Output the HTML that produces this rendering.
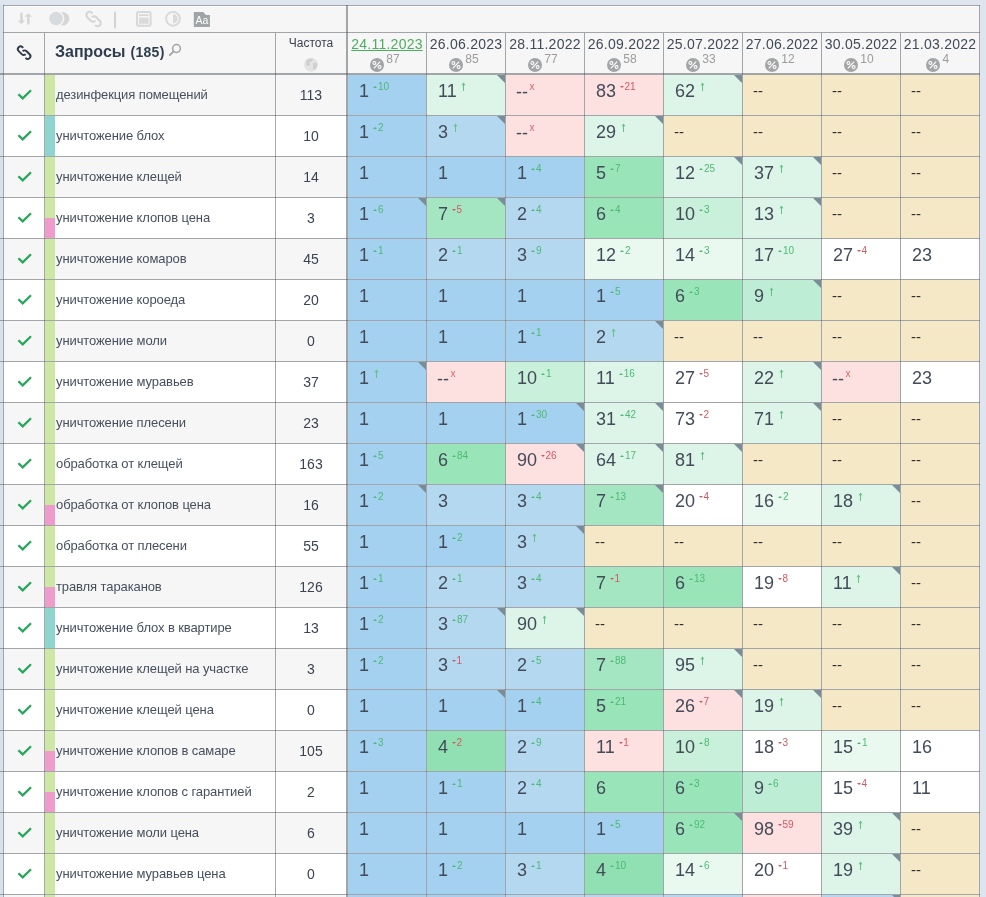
<!DOCTYPE html>
<html><head><meta charset="utf-8"><title>Запросы</title>
<style>
*{margin:0;padding:0;box-sizing:border-box}
html,body{width:986px;height:897px;overflow:hidden}
body{position:relative;background:#dfe5ee;font-family:"Liberation Sans",Arial,sans-serif;color:#3b4553}
.a{position:absolute}
.hl{position:absolute;height:1px;background:rgba(80,86,92,.5)}
.vl{position:absolute;width:1px;background:rgba(80,86,92,.5)}
.q{position:absolute;left:56px;font-size:13px;line-height:13px;color:#474f5d;white-space:nowrap;letter-spacing:-.1px}
.f{position:absolute;left:276px;width:70px;text-align:center;font-size:14px;line-height:14px;color:#3b4250}
.v{position:absolute;font-size:18px;line-height:18px;color:#434b59;white-space:nowrap}
.s{font-size:10px;line-height:10px;position:relative;top:-7px;margin-left:4px}
.su{color:#4cba74}.sd{color:#d05a63}.sx{color:#d46a6a}
.tu{display:inline-block;width:0;height:0;border-left:2px solid transparent;border-right:2px solid transparent;border-bottom:2.5px solid #4cba74;vertical-align:2.5px;margin-right:1px}
.td{display:inline-block;width:0;height:0;border-left:2px solid transparent;border-right:2px solid transparent;border-top:2.5px solid #d05a63;vertical-align:2.5px;margin-right:.5px}
.ar{vertical-align:6px;margin-left:4.5px}
.dd{position:absolute;font-size:15px;line-height:15px;color:#2e2e2e}
.cr{position:absolute;width:0;height:0;border-top:8px solid #7b8c99;border-left:8px solid transparent}
.dh{position:absolute;width:78px;text-align:center;font-size:14px;line-height:14px;color:#434a57;white-space:nowrap;letter-spacing:.25px}
.pc{position:absolute;width:14px;height:14px;border-radius:50%;background:#a3a5a7;color:#fff;font-size:10px;line-height:14px;text-align:center;font-weight:bold}
.pn{position:absolute;font-size:12px;line-height:12px;color:#9b9b9b}
</style></head><body>

<div class="a" style="left:0;top:5px;width:3px;height:892px;background:#d6e1ea"></div>
<div class="a" style="left:3px;top:5px;width:977px;height:892px;background:#f6f6f6"></div>
<div class="a" style="left:4px;top:75px;width:342px;height:40px;background:#f6f6f6"></div>
<div class="a" style="left:4px;top:116px;width:342px;height:40px;background:#ffffff"></div>
<div class="a" style="left:4px;top:157px;width:342px;height:40px;background:#f6f6f6"></div>
<div class="a" style="left:4px;top:198px;width:342px;height:40px;background:#ffffff"></div>
<div class="a" style="left:4px;top:239px;width:342px;height:40px;background:#f6f6f6"></div>
<div class="a" style="left:4px;top:280px;width:342px;height:40px;background:#ffffff"></div>
<div class="a" style="left:4px;top:321px;width:342px;height:40px;background:#f6f6f6"></div>
<div class="a" style="left:4px;top:362px;width:342px;height:40px;background:#ffffff"></div>
<div class="a" style="left:4px;top:403px;width:342px;height:40px;background:#f6f6f6"></div>
<div class="a" style="left:4px;top:444px;width:342px;height:40px;background:#ffffff"></div>
<div class="a" style="left:4px;top:485px;width:342px;height:40px;background:#f6f6f6"></div>
<div class="a" style="left:4px;top:526px;width:342px;height:40px;background:#ffffff"></div>
<div class="a" style="left:4px;top:567px;width:342px;height:40px;background:#f6f6f6"></div>
<div class="a" style="left:4px;top:608px;width:342px;height:40px;background:#ffffff"></div>
<div class="a" style="left:4px;top:649px;width:342px;height:40px;background:#f6f6f6"></div>
<div class="a" style="left:4px;top:690px;width:342px;height:40px;background:#ffffff"></div>
<div class="a" style="left:4px;top:731px;width:342px;height:40px;background:#f6f6f6"></div>
<div class="a" style="left:4px;top:772px;width:342px;height:40px;background:#ffffff"></div>
<div class="a" style="left:4px;top:813px;width:342px;height:40px;background:#f6f6f6"></div>
<div class="a" style="left:4px;top:854px;width:342px;height:40px;background:#ffffff"></div>
<div class="a" style="left:4px;top:895px;width:342px;height:40px;background:#f6f6f6"></div>
<div class="a" style="left:45px;top:75px;width:10px;height:40px;background:#cde8a5"></div>
<div class="a" style="left:45px;top:116px;width:10px;height:40px;background:#8fd5cf"></div>
<div class="a" style="left:45px;top:157px;width:10px;height:40px;background:#cde8a5"></div>
<div class="a" style="left:45px;top:198px;width:10px;height:20px;background:#cde8a5"></div>
<div class="a" style="left:45px;top:218px;width:10px;height:20px;background:#ef9bcb"></div>
<div class="a" style="left:45px;top:239px;width:10px;height:40px;background:#cde8a5"></div>
<div class="a" style="left:45px;top:280px;width:10px;height:40px;background:#cde8a5"></div>
<div class="a" style="left:45px;top:321px;width:10px;height:40px;background:#cde8a5"></div>
<div class="a" style="left:45px;top:362px;width:10px;height:40px;background:#cde8a5"></div>
<div class="a" style="left:45px;top:403px;width:10px;height:40px;background:#cde8a5"></div>
<div class="a" style="left:45px;top:444px;width:10px;height:40px;background:#cde8a5"></div>
<div class="a" style="left:45px;top:485px;width:10px;height:20px;background:#cde8a5"></div>
<div class="a" style="left:45px;top:505px;width:10px;height:20px;background:#ef9bcb"></div>
<div class="a" style="left:45px;top:526px;width:10px;height:40px;background:#cde8a5"></div>
<div class="a" style="left:45px;top:567px;width:10px;height:20px;background:#cde8a5"></div>
<div class="a" style="left:45px;top:587px;width:10px;height:20px;background:#ef9bcb"></div>
<div class="a" style="left:45px;top:608px;width:10px;height:40px;background:#8fd5cf"></div>
<div class="a" style="left:45px;top:649px;width:10px;height:40px;background:#cde8a5"></div>
<div class="a" style="left:45px;top:690px;width:10px;height:40px;background:#cde8a5"></div>
<div class="a" style="left:45px;top:731px;width:10px;height:20px;background:#cde8a5"></div>
<div class="a" style="left:45px;top:751px;width:10px;height:20px;background:#ef9bcb"></div>
<div class="a" style="left:45px;top:772px;width:10px;height:20px;background:#cde8a5"></div>
<div class="a" style="left:45px;top:792px;width:10px;height:20px;background:#ef9bcb"></div>
<div class="a" style="left:45px;top:813px;width:10px;height:40px;background:#cde8a5"></div>
<div class="a" style="left:45px;top:854px;width:10px;height:40px;background:#cde8a5"></div>
<div class="a" style="left:45px;top:895px;width:10px;height:40px;background:#cde8a5"></div>
<div class="a" style="left:348px;top:75px;width:78px;height:40px;background:#a3d1ef"></div>
<div class="a" style="left:427px;top:75px;width:78px;height:40px;background:#ddf5e8"></div>
<div class="a" style="left:506px;top:75px;width:78px;height:40px;background:#fde0e0"></div>
<div class="a" style="left:585px;top:75px;width:78px;height:40px;background:#fde0e0"></div>
<div class="a" style="left:664px;top:75px;width:78px;height:40px;background:#ddf5e8"></div>
<div class="a" style="left:743px;top:75px;width:78px;height:40px;background:#f5e8c7"></div>
<div class="a" style="left:822px;top:75px;width:78px;height:40px;background:#f5e8c7"></div>
<div class="a" style="left:901px;top:75px;width:78px;height:40px;background:#f5e8c7"></div>
<div class="a" style="left:348px;top:116px;width:78px;height:40px;background:#a3d1ef"></div>
<div class="a" style="left:427px;top:116px;width:78px;height:40px;background:#b4d8f0"></div>
<div class="a" style="left:506px;top:116px;width:78px;height:40px;background:#fde0e0"></div>
<div class="a" style="left:585px;top:116px;width:78px;height:40px;background:#ddf5e8"></div>
<div class="a" style="left:664px;top:116px;width:78px;height:40px;background:#f5e8c7"></div>
<div class="a" style="left:743px;top:116px;width:78px;height:40px;background:#f5e8c7"></div>
<div class="a" style="left:822px;top:116px;width:78px;height:40px;background:#f5e8c7"></div>
<div class="a" style="left:901px;top:116px;width:78px;height:40px;background:#f5e8c7"></div>
<div class="a" style="left:348px;top:157px;width:78px;height:40px;background:#a3d1ef"></div>
<div class="a" style="left:427px;top:157px;width:78px;height:40px;background:#a3d1ef"></div>
<div class="a" style="left:506px;top:157px;width:78px;height:40px;background:#a3d1ef"></div>
<div class="a" style="left:585px;top:157px;width:78px;height:40px;background:#9ae4ba"></div>
<div class="a" style="left:664px;top:157px;width:78px;height:40px;background:#ddf5e8"></div>
<div class="a" style="left:743px;top:157px;width:78px;height:40px;background:#ddf5e8"></div>
<div class="a" style="left:822px;top:157px;width:78px;height:40px;background:#f5e8c7"></div>
<div class="a" style="left:901px;top:157px;width:78px;height:40px;background:#f5e8c7"></div>
<div class="a" style="left:348px;top:198px;width:78px;height:40px;background:#a3d1ef"></div>
<div class="a" style="left:427px;top:198px;width:78px;height:40px;background:#a5e6c2"></div>
<div class="a" style="left:506px;top:198px;width:78px;height:40px;background:#b4d8f0"></div>
<div class="a" style="left:585px;top:198px;width:78px;height:40px;background:#9ae4ba"></div>
<div class="a" style="left:664px;top:198px;width:78px;height:40px;background:#c9f0da"></div>
<div class="a" style="left:743px;top:198px;width:78px;height:40px;background:#ddf5e8"></div>
<div class="a" style="left:822px;top:198px;width:78px;height:40px;background:#f5e8c7"></div>
<div class="a" style="left:901px;top:198px;width:78px;height:40px;background:#f5e8c7"></div>
<div class="a" style="left:348px;top:239px;width:78px;height:40px;background:#a3d1ef"></div>
<div class="a" style="left:427px;top:239px;width:78px;height:40px;background:#b4d8f0"></div>
<div class="a" style="left:506px;top:239px;width:78px;height:40px;background:#b4d8f0"></div>
<div class="a" style="left:585px;top:239px;width:78px;height:40px;background:#eaf9f0"></div>
<div class="a" style="left:664px;top:239px;width:78px;height:40px;background:#eaf9f0"></div>
<div class="a" style="left:743px;top:239px;width:78px;height:40px;background:#ddf5e8"></div>
<div class="a" style="left:822px;top:239px;width:78px;height:40px;background:#ffffff"></div>
<div class="a" style="left:901px;top:239px;width:78px;height:40px;background:#ffffff"></div>
<div class="a" style="left:348px;top:280px;width:78px;height:40px;background:#a3d1ef"></div>
<div class="a" style="left:427px;top:280px;width:78px;height:40px;background:#a3d1ef"></div>
<div class="a" style="left:506px;top:280px;width:78px;height:40px;background:#a3d1ef"></div>
<div class="a" style="left:585px;top:280px;width:78px;height:40px;background:#a3d1ef"></div>
<div class="a" style="left:664px;top:280px;width:78px;height:40px;background:#9ae4ba"></div>
<div class="a" style="left:743px;top:280px;width:78px;height:40px;background:#beedd5"></div>
<div class="a" style="left:822px;top:280px;width:78px;height:40px;background:#f5e8c7"></div>
<div class="a" style="left:901px;top:280px;width:78px;height:40px;background:#f5e8c7"></div>
<div class="a" style="left:348px;top:321px;width:78px;height:40px;background:#a3d1ef"></div>
<div class="a" style="left:427px;top:321px;width:78px;height:40px;background:#a3d1ef"></div>
<div class="a" style="left:506px;top:321px;width:78px;height:40px;background:#a3d1ef"></div>
<div class="a" style="left:585px;top:321px;width:78px;height:40px;background:#b4d8f0"></div>
<div class="a" style="left:664px;top:321px;width:78px;height:40px;background:#f5e8c7"></div>
<div class="a" style="left:743px;top:321px;width:78px;height:40px;background:#f5e8c7"></div>
<div class="a" style="left:822px;top:321px;width:78px;height:40px;background:#f5e8c7"></div>
<div class="a" style="left:901px;top:321px;width:78px;height:40px;background:#f5e8c7"></div>
<div class="a" style="left:348px;top:362px;width:78px;height:40px;background:#a3d1ef"></div>
<div class="a" style="left:427px;top:362px;width:78px;height:40px;background:#fde0e0"></div>
<div class="a" style="left:506px;top:362px;width:78px;height:40px;background:#c9f0da"></div>
<div class="a" style="left:585px;top:362px;width:78px;height:40px;background:#ddf5e8"></div>
<div class="a" style="left:664px;top:362px;width:78px;height:40px;background:#ffffff"></div>
<div class="a" style="left:743px;top:362px;width:78px;height:40px;background:#ddf5e8"></div>
<div class="a" style="left:822px;top:362px;width:78px;height:40px;background:#fde0e0"></div>
<div class="a" style="left:901px;top:362px;width:78px;height:40px;background:#ffffff"></div>
<div class="a" style="left:348px;top:403px;width:78px;height:40px;background:#a3d1ef"></div>
<div class="a" style="left:427px;top:403px;width:78px;height:40px;background:#a3d1ef"></div>
<div class="a" style="left:506px;top:403px;width:78px;height:40px;background:#a3d1ef"></div>
<div class="a" style="left:585px;top:403px;width:78px;height:40px;background:#ddf5e8"></div>
<div class="a" style="left:664px;top:403px;width:78px;height:40px;background:#ffffff"></div>
<div class="a" style="left:743px;top:403px;width:78px;height:40px;background:#ddf5e8"></div>
<div class="a" style="left:822px;top:403px;width:78px;height:40px;background:#f5e8c7"></div>
<div class="a" style="left:901px;top:403px;width:78px;height:40px;background:#f5e8c7"></div>
<div class="a" style="left:348px;top:444px;width:78px;height:40px;background:#a3d1ef"></div>
<div class="a" style="left:427px;top:444px;width:78px;height:40px;background:#9ae4ba"></div>
<div class="a" style="left:506px;top:444px;width:78px;height:40px;background:#fde0e0"></div>
<div class="a" style="left:585px;top:444px;width:78px;height:40px;background:#ddf5e8"></div>
<div class="a" style="left:664px;top:444px;width:78px;height:40px;background:#ddf5e8"></div>
<div class="a" style="left:743px;top:444px;width:78px;height:40px;background:#f5e8c7"></div>
<div class="a" style="left:822px;top:444px;width:78px;height:40px;background:#f5e8c7"></div>
<div class="a" style="left:901px;top:444px;width:78px;height:40px;background:#f5e8c7"></div>
<div class="a" style="left:348px;top:485px;width:78px;height:40px;background:#a3d1ef"></div>
<div class="a" style="left:427px;top:485px;width:78px;height:40px;background:#b4d8f0"></div>
<div class="a" style="left:506px;top:485px;width:78px;height:40px;background:#b4d8f0"></div>
<div class="a" style="left:585px;top:485px;width:78px;height:40px;background:#a5e6c2"></div>
<div class="a" style="left:664px;top:485px;width:78px;height:40px;background:#ffffff"></div>
<div class="a" style="left:743px;top:485px;width:78px;height:40px;background:#eaf9f0"></div>
<div class="a" style="left:822px;top:485px;width:78px;height:40px;background:#ddf5e8"></div>
<div class="a" style="left:901px;top:485px;width:78px;height:40px;background:#f5e8c7"></div>
<div class="a" style="left:348px;top:526px;width:78px;height:40px;background:#a3d1ef"></div>
<div class="a" style="left:427px;top:526px;width:78px;height:40px;background:#a3d1ef"></div>
<div class="a" style="left:506px;top:526px;width:78px;height:40px;background:#b4d8f0"></div>
<div class="a" style="left:585px;top:526px;width:78px;height:40px;background:#f5e8c7"></div>
<div class="a" style="left:664px;top:526px;width:78px;height:40px;background:#f5e8c7"></div>
<div class="a" style="left:743px;top:526px;width:78px;height:40px;background:#f5e8c7"></div>
<div class="a" style="left:822px;top:526px;width:78px;height:40px;background:#f5e8c7"></div>
<div class="a" style="left:901px;top:526px;width:78px;height:40px;background:#f5e8c7"></div>
<div class="a" style="left:348px;top:567px;width:78px;height:40px;background:#a3d1ef"></div>
<div class="a" style="left:427px;top:567px;width:78px;height:40px;background:#b4d8f0"></div>
<div class="a" style="left:506px;top:567px;width:78px;height:40px;background:#b4d8f0"></div>
<div class="a" style="left:585px;top:567px;width:78px;height:40px;background:#a5e6c2"></div>
<div class="a" style="left:664px;top:567px;width:78px;height:40px;background:#9ae4ba"></div>
<div class="a" style="left:743px;top:567px;width:78px;height:40px;background:#ffffff"></div>
<div class="a" style="left:822px;top:567px;width:78px;height:40px;background:#ddf5e8"></div>
<div class="a" style="left:901px;top:567px;width:78px;height:40px;background:#f5e8c7"></div>
<div class="a" style="left:348px;top:608px;width:78px;height:40px;background:#a3d1ef"></div>
<div class="a" style="left:427px;top:608px;width:78px;height:40px;background:#b4d8f0"></div>
<div class="a" style="left:506px;top:608px;width:78px;height:40px;background:#ddf5e8"></div>
<div class="a" style="left:585px;top:608px;width:78px;height:40px;background:#f5e8c7"></div>
<div class="a" style="left:664px;top:608px;width:78px;height:40px;background:#f5e8c7"></div>
<div class="a" style="left:743px;top:608px;width:78px;height:40px;background:#f5e8c7"></div>
<div class="a" style="left:822px;top:608px;width:78px;height:40px;background:#f5e8c7"></div>
<div class="a" style="left:901px;top:608px;width:78px;height:40px;background:#f5e8c7"></div>
<div class="a" style="left:348px;top:649px;width:78px;height:40px;background:#a3d1ef"></div>
<div class="a" style="left:427px;top:649px;width:78px;height:40px;background:#b4d8f0"></div>
<div class="a" style="left:506px;top:649px;width:78px;height:40px;background:#b4d8f0"></div>
<div class="a" style="left:585px;top:649px;width:78px;height:40px;background:#a5e6c2"></div>
<div class="a" style="left:664px;top:649px;width:78px;height:40px;background:#ddf5e8"></div>
<div class="a" style="left:743px;top:649px;width:78px;height:40px;background:#f5e8c7"></div>
<div class="a" style="left:822px;top:649px;width:78px;height:40px;background:#f5e8c7"></div>
<div class="a" style="left:901px;top:649px;width:78px;height:40px;background:#f5e8c7"></div>
<div class="a" style="left:348px;top:690px;width:78px;height:40px;background:#a3d1ef"></div>
<div class="a" style="left:427px;top:690px;width:78px;height:40px;background:#a3d1ef"></div>
<div class="a" style="left:506px;top:690px;width:78px;height:40px;background:#a3d1ef"></div>
<div class="a" style="left:585px;top:690px;width:78px;height:40px;background:#9ae4ba"></div>
<div class="a" style="left:664px;top:690px;width:78px;height:40px;background:#fde0e0"></div>
<div class="a" style="left:743px;top:690px;width:78px;height:40px;background:#ddf5e8"></div>
<div class="a" style="left:822px;top:690px;width:78px;height:40px;background:#f5e8c7"></div>
<div class="a" style="left:901px;top:690px;width:78px;height:40px;background:#f5e8c7"></div>
<div class="a" style="left:348px;top:731px;width:78px;height:40px;background:#a3d1ef"></div>
<div class="a" style="left:427px;top:731px;width:78px;height:40px;background:#91e0b3"></div>
<div class="a" style="left:506px;top:731px;width:78px;height:40px;background:#b4d8f0"></div>
<div class="a" style="left:585px;top:731px;width:78px;height:40px;background:#fde0e0"></div>
<div class="a" style="left:664px;top:731px;width:78px;height:40px;background:#c9f0da"></div>
<div class="a" style="left:743px;top:731px;width:78px;height:40px;background:#ffffff"></div>
<div class="a" style="left:822px;top:731px;width:78px;height:40px;background:#eaf9f0"></div>
<div class="a" style="left:901px;top:731px;width:78px;height:40px;background:#ffffff"></div>
<div class="a" style="left:348px;top:772px;width:78px;height:40px;background:#a3d1ef"></div>
<div class="a" style="left:427px;top:772px;width:78px;height:40px;background:#a3d1ef"></div>
<div class="a" style="left:506px;top:772px;width:78px;height:40px;background:#b4d8f0"></div>
<div class="a" style="left:585px;top:772px;width:78px;height:40px;background:#9ae4ba"></div>
<div class="a" style="left:664px;top:772px;width:78px;height:40px;background:#9ae4ba"></div>
<div class="a" style="left:743px;top:772px;width:78px;height:40px;background:#beedd5"></div>
<div class="a" style="left:822px;top:772px;width:78px;height:40px;background:#ffffff"></div>
<div class="a" style="left:901px;top:772px;width:78px;height:40px;background:#ffffff"></div>
<div class="a" style="left:348px;top:813px;width:78px;height:40px;background:#a3d1ef"></div>
<div class="a" style="left:427px;top:813px;width:78px;height:40px;background:#a3d1ef"></div>
<div class="a" style="left:506px;top:813px;width:78px;height:40px;background:#a3d1ef"></div>
<div class="a" style="left:585px;top:813px;width:78px;height:40px;background:#a3d1ef"></div>
<div class="a" style="left:664px;top:813px;width:78px;height:40px;background:#9ae4ba"></div>
<div class="a" style="left:743px;top:813px;width:78px;height:40px;background:#fde0e0"></div>
<div class="a" style="left:822px;top:813px;width:78px;height:40px;background:#ddf5e8"></div>
<div class="a" style="left:901px;top:813px;width:78px;height:40px;background:#f5e8c7"></div>
<div class="a" style="left:348px;top:854px;width:78px;height:40px;background:#a3d1ef"></div>
<div class="a" style="left:427px;top:854px;width:78px;height:40px;background:#a3d1ef"></div>
<div class="a" style="left:506px;top:854px;width:78px;height:40px;background:#b4d8f0"></div>
<div class="a" style="left:585px;top:854px;width:78px;height:40px;background:#91e0b3"></div>
<div class="a" style="left:664px;top:854px;width:78px;height:40px;background:#eaf9f0"></div>
<div class="a" style="left:743px;top:854px;width:78px;height:40px;background:#ffffff"></div>
<div class="a" style="left:822px;top:854px;width:78px;height:40px;background:#ddf5e8"></div>
<div class="a" style="left:901px;top:854px;width:78px;height:40px;background:#f5e8c7"></div>
<div class="a" style="left:348px;top:895px;width:78px;height:40px;background:#a3d1ef"></div>
<div class="a" style="left:427px;top:895px;width:78px;height:40px;background:#a3d1ef"></div>
<div class="a" style="left:506px;top:895px;width:78px;height:40px;background:#b4d8f0"></div>
<div class="a" style="left:585px;top:895px;width:78px;height:40px;background:#b4d8f0"></div>
<div class="a" style="left:664px;top:895px;width:78px;height:40px;background:#b4d8f0"></div>
<div class="a" style="left:743px;top:895px;width:78px;height:40px;background:#fde0e0"></div>
<div class="a" style="left:822px;top:895px;width:78px;height:40px;background:#b4d8f0"></div>
<div class="a" style="left:901px;top:895px;width:78px;height:40px;background:#f5e8c7"></div>
<div class="hl" style="left:3px;top:5px;width:977px"></div>
<div class="vl" style="left:3px;top:5px;height:892px"></div>
<div class="vl" style="left:979px;top:5px;height:892px"></div>
<div class="hl" style="left:3px;top:32px;width:977px"></div>
<div class="a" style="left:4px;top:6px;width:975px;height:1px;background:rgba(255,255,255,.75)"></div>
<div class="hl" style="left:0px;top:73px;width:980px;height:2px"></div>
<div class="vl" style="left:346px;top:5px;height:892px;width:2px"></div>
<div class="vl" style="left:44px;top:33px;height:864px"></div>
<div class="vl" style="left:275px;top:33px;height:864px"></div>
<div class="vl" style="left:426px;top:33px;height:864px"></div>
<div class="vl" style="left:505px;top:33px;height:864px"></div>
<div class="vl" style="left:584px;top:33px;height:864px"></div>
<div class="vl" style="left:663px;top:33px;height:864px"></div>
<div class="vl" style="left:742px;top:33px;height:864px"></div>
<div class="vl" style="left:821px;top:33px;height:864px"></div>
<div class="vl" style="left:900px;top:33px;height:864px"></div>
<div class="hl" style="left:0px;top:115px;width:980px"></div>
<div class="hl" style="left:0px;top:156px;width:980px"></div>
<div class="hl" style="left:0px;top:197px;width:980px"></div>
<div class="hl" style="left:0px;top:238px;width:980px"></div>
<div class="hl" style="left:0px;top:279px;width:980px"></div>
<div class="hl" style="left:0px;top:320px;width:980px"></div>
<div class="hl" style="left:0px;top:361px;width:980px"></div>
<div class="hl" style="left:0px;top:402px;width:980px"></div>
<div class="hl" style="left:0px;top:443px;width:980px"></div>
<div class="hl" style="left:0px;top:484px;width:980px"></div>
<div class="hl" style="left:0px;top:525px;width:980px"></div>
<div class="hl" style="left:0px;top:566px;width:980px"></div>
<div class="hl" style="left:0px;top:607px;width:980px"></div>
<div class="hl" style="left:0px;top:648px;width:980px"></div>
<div class="hl" style="left:0px;top:689px;width:980px"></div>
<div class="hl" style="left:0px;top:730px;width:980px"></div>
<div class="hl" style="left:0px;top:771px;width:980px"></div>
<div class="hl" style="left:0px;top:812px;width:980px"></div>
<div class="hl" style="left:0px;top:853px;width:980px"></div>
<div class="hl" style="left:0px;top:894px;width:980px"></div>
<div class="hl" style="left:0px;top:935px;width:980px"></div>
<div class="cr" style="left:497px;top:75px"></div>
<div class="cr" style="left:734px;top:75px"></div>
<div class="cr" style="left:497px;top:116px"></div>
<div class="cr" style="left:655px;top:116px"></div>
<div class="cr" style="left:734px;top:157px"></div>
<div class="cr" style="left:813px;top:157px"></div>
<div class="cr" style="left:418px;top:198px"></div>
<div class="cr" style="left:497px;top:198px"></div>
<div class="cr" style="left:813px;top:198px"></div>
<div class="cr" style="left:813px;top:280px"></div>
<div class="cr" style="left:655px;top:321px"></div>
<div class="cr" style="left:418px;top:362px"></div>
<div class="cr" style="left:813px;top:362px"></div>
<div class="cr" style="left:576px;top:403px"></div>
<div class="cr" style="left:655px;top:403px"></div>
<div class="cr" style="left:813px;top:403px"></div>
<div class="cr" style="left:576px;top:444px"></div>
<div class="cr" style="left:655px;top:444px"></div>
<div class="cr" style="left:734px;top:444px"></div>
<div class="cr" style="left:418px;top:485px"></div>
<div class="cr" style="left:655px;top:485px"></div>
<div class="cr" style="left:892px;top:485px"></div>
<div class="cr" style="left:576px;top:526px"></div>
<div class="cr" style="left:892px;top:567px"></div>
<div class="cr" style="left:497px;top:608px"></div>
<div class="cr" style="left:576px;top:608px"></div>
<div class="cr" style="left:734px;top:649px"></div>
<div class="cr" style="left:497px;top:690px"></div>
<div class="cr" style="left:734px;top:690px"></div>
<div class="cr" style="left:813px;top:690px"></div>
<div class="cr" style="left:734px;top:813px"></div>
<div class="cr" style="left:892px;top:813px"></div>
<div class="cr" style="left:892px;top:854px"></div>
<div class="cr" style="left:892px;top:895px"></div>
<div class="q" style="top:88px">дезинфекция помещений</div>
<div class="f" style="top:88px">113</div>
<svg class="a" style="left:14px;top:86px" width="22" height="18" viewBox="0 0 22 18"><path d="M4.4 8.2 L8.7 12.4 L17 4.3" fill="none" stroke="#27a75b" stroke-width="2.3" stroke-linecap="butt" stroke-linejoin="miter"/></svg>
<div class="q" style="top:129px">уничтожение блох</div>
<div class="f" style="top:129px">10</div>
<svg class="a" style="left:14px;top:127px" width="22" height="18" viewBox="0 0 22 18"><path d="M4.4 8.2 L8.7 12.4 L17 4.3" fill="none" stroke="#27a75b" stroke-width="2.3" stroke-linecap="butt" stroke-linejoin="miter"/></svg>
<div class="q" style="top:170px">уничтожение клещей</div>
<div class="f" style="top:170px">14</div>
<svg class="a" style="left:14px;top:168px" width="22" height="18" viewBox="0 0 22 18"><path d="M4.4 8.2 L8.7 12.4 L17 4.3" fill="none" stroke="#27a75b" stroke-width="2.3" stroke-linecap="butt" stroke-linejoin="miter"/></svg>
<div class="q" style="top:211px">уничтожение клопов цена</div>
<div class="f" style="top:211px">3</div>
<svg class="a" style="left:14px;top:209px" width="22" height="18" viewBox="0 0 22 18"><path d="M4.4 8.2 L8.7 12.4 L17 4.3" fill="none" stroke="#27a75b" stroke-width="2.3" stroke-linecap="butt" stroke-linejoin="miter"/></svg>
<div class="q" style="top:252px">уничтожение комаров</div>
<div class="f" style="top:252px">45</div>
<svg class="a" style="left:14px;top:250px" width="22" height="18" viewBox="0 0 22 18"><path d="M4.4 8.2 L8.7 12.4 L17 4.3" fill="none" stroke="#27a75b" stroke-width="2.3" stroke-linecap="butt" stroke-linejoin="miter"/></svg>
<div class="q" style="top:293px">уничтожение короеда</div>
<div class="f" style="top:293px">20</div>
<svg class="a" style="left:14px;top:291px" width="22" height="18" viewBox="0 0 22 18"><path d="M4.4 8.2 L8.7 12.4 L17 4.3" fill="none" stroke="#27a75b" stroke-width="2.3" stroke-linecap="butt" stroke-linejoin="miter"/></svg>
<div class="q" style="top:334px">уничтожение моли</div>
<div class="f" style="top:334px">0</div>
<svg class="a" style="left:14px;top:332px" width="22" height="18" viewBox="0 0 22 18"><path d="M4.4 8.2 L8.7 12.4 L17 4.3" fill="none" stroke="#27a75b" stroke-width="2.3" stroke-linecap="butt" stroke-linejoin="miter"/></svg>
<div class="q" style="top:375px">уничтожение муравьев</div>
<div class="f" style="top:375px">37</div>
<svg class="a" style="left:14px;top:373px" width="22" height="18" viewBox="0 0 22 18"><path d="M4.4 8.2 L8.7 12.4 L17 4.3" fill="none" stroke="#27a75b" stroke-width="2.3" stroke-linecap="butt" stroke-linejoin="miter"/></svg>
<div class="q" style="top:416px">уничтожение плесени</div>
<div class="f" style="top:416px">23</div>
<svg class="a" style="left:14px;top:414px" width="22" height="18" viewBox="0 0 22 18"><path d="M4.4 8.2 L8.7 12.4 L17 4.3" fill="none" stroke="#27a75b" stroke-width="2.3" stroke-linecap="butt" stroke-linejoin="miter"/></svg>
<div class="q" style="top:457px">обработка от клещей</div>
<div class="f" style="top:457px">163</div>
<svg class="a" style="left:14px;top:455px" width="22" height="18" viewBox="0 0 22 18"><path d="M4.4 8.2 L8.7 12.4 L17 4.3" fill="none" stroke="#27a75b" stroke-width="2.3" stroke-linecap="butt" stroke-linejoin="miter"/></svg>
<div class="q" style="top:498px">обработка от клопов цена</div>
<div class="f" style="top:498px">16</div>
<svg class="a" style="left:14px;top:496px" width="22" height="18" viewBox="0 0 22 18"><path d="M4.4 8.2 L8.7 12.4 L17 4.3" fill="none" stroke="#27a75b" stroke-width="2.3" stroke-linecap="butt" stroke-linejoin="miter"/></svg>
<div class="q" style="top:539px">обработка от плесени</div>
<div class="f" style="top:539px">55</div>
<svg class="a" style="left:14px;top:537px" width="22" height="18" viewBox="0 0 22 18"><path d="M4.4 8.2 L8.7 12.4 L17 4.3" fill="none" stroke="#27a75b" stroke-width="2.3" stroke-linecap="butt" stroke-linejoin="miter"/></svg>
<div class="q" style="top:580px">травля тараканов</div>
<div class="f" style="top:580px">126</div>
<svg class="a" style="left:14px;top:578px" width="22" height="18" viewBox="0 0 22 18"><path d="M4.4 8.2 L8.7 12.4 L17 4.3" fill="none" stroke="#27a75b" stroke-width="2.3" stroke-linecap="butt" stroke-linejoin="miter"/></svg>
<div class="q" style="top:621px">уничтожение блох в квартире</div>
<div class="f" style="top:621px">13</div>
<svg class="a" style="left:14px;top:619px" width="22" height="18" viewBox="0 0 22 18"><path d="M4.4 8.2 L8.7 12.4 L17 4.3" fill="none" stroke="#27a75b" stroke-width="2.3" stroke-linecap="butt" stroke-linejoin="miter"/></svg>
<div class="q" style="top:662px">уничтожение клещей на участке</div>
<div class="f" style="top:662px">3</div>
<svg class="a" style="left:14px;top:660px" width="22" height="18" viewBox="0 0 22 18"><path d="M4.4 8.2 L8.7 12.4 L17 4.3" fill="none" stroke="#27a75b" stroke-width="2.3" stroke-linecap="butt" stroke-linejoin="miter"/></svg>
<div class="q" style="top:703px">уничтожение клещей цена</div>
<div class="f" style="top:703px">0</div>
<svg class="a" style="left:14px;top:701px" width="22" height="18" viewBox="0 0 22 18"><path d="M4.4 8.2 L8.7 12.4 L17 4.3" fill="none" stroke="#27a75b" stroke-width="2.3" stroke-linecap="butt" stroke-linejoin="miter"/></svg>
<div class="q" style="top:744px">уничтожение клопов в самаре</div>
<div class="f" style="top:744px">105</div>
<svg class="a" style="left:14px;top:742px" width="22" height="18" viewBox="0 0 22 18"><path d="M4.4 8.2 L8.7 12.4 L17 4.3" fill="none" stroke="#27a75b" stroke-width="2.3" stroke-linecap="butt" stroke-linejoin="miter"/></svg>
<div class="q" style="top:785px">уничтожение клопов с гарантией</div>
<div class="f" style="top:785px">2</div>
<svg class="a" style="left:14px;top:783px" width="22" height="18" viewBox="0 0 22 18"><path d="M4.4 8.2 L8.7 12.4 L17 4.3" fill="none" stroke="#27a75b" stroke-width="2.3" stroke-linecap="butt" stroke-linejoin="miter"/></svg>
<div class="q" style="top:826px">уничтожение моли цена</div>
<div class="f" style="top:826px">6</div>
<svg class="a" style="left:14px;top:824px" width="22" height="18" viewBox="0 0 22 18"><path d="M4.4 8.2 L8.7 12.4 L17 4.3" fill="none" stroke="#27a75b" stroke-width="2.3" stroke-linecap="butt" stroke-linejoin="miter"/></svg>
<div class="q" style="top:867px">уничтожение муравьев цена</div>
<div class="f" style="top:867px">0</div>
<svg class="a" style="left:14px;top:865px" width="22" height="18" viewBox="0 0 22 18"><path d="M4.4 8.2 L8.7 12.4 L17 4.3" fill="none" stroke="#27a75b" stroke-width="2.3" stroke-linecap="butt" stroke-linejoin="miter"/></svg>
<div class="v" style="left:359px;top:82px">1<span class="s su"><i class="tu"></i>10</span></div>
<div class="v" style="left:438px;top:82px">11<svg class="ar" width="5" height="9" viewBox="0 0 5 9"><path d="M2.5 2V9" stroke="#62c483" stroke-width="1"/><path d="M0.5 3.3 L2.5 0.6 L4.5 3.3Z" fill="#62c483"/></svg></div>
<div class="v" style="left:516px;top:83px">--<span class="s sx" style="margin-left:1.5px;top:-8px">x</span></div>
<div class="v" style="left:596px;top:82px">83<span class="s sd"><i class="td"></i>21</span></div>
<div class="v" style="left:675px;top:82px">62<svg class="ar" width="5" height="9" viewBox="0 0 5 9"><path d="M2.5 2V9" stroke="#62c483" stroke-width="1"/><path d="M0.5 3.3 L2.5 0.6 L4.5 3.3Z" fill="#62c483"/></svg></div>
<div class="dd" style="left:753px;top:83px">--</div>
<div class="dd" style="left:832px;top:83px">--</div>
<div class="dd" style="left:911px;top:83px">--</div>
<div class="v" style="left:359px;top:123px">1<span class="s su"><i class="tu"></i>2</span></div>
<div class="v" style="left:438px;top:123px">3<svg class="ar" width="5" height="9" viewBox="0 0 5 9"><path d="M2.5 2V9" stroke="#62c483" stroke-width="1"/><path d="M0.5 3.3 L2.5 0.6 L4.5 3.3Z" fill="#62c483"/></svg></div>
<div class="v" style="left:516px;top:124px">--<span class="s sx" style="margin-left:1.5px;top:-8px">x</span></div>
<div class="v" style="left:596px;top:123px">29<svg class="ar" width="5" height="9" viewBox="0 0 5 9"><path d="M2.5 2V9" stroke="#62c483" stroke-width="1"/><path d="M0.5 3.3 L2.5 0.6 L4.5 3.3Z" fill="#62c483"/></svg></div>
<div class="dd" style="left:674px;top:124px">--</div>
<div class="dd" style="left:753px;top:124px">--</div>
<div class="dd" style="left:832px;top:124px">--</div>
<div class="dd" style="left:911px;top:124px">--</div>
<div class="v" style="left:359px;top:164px">1</div>
<div class="v" style="left:438px;top:164px">1</div>
<div class="v" style="left:517px;top:164px">1<span class="s su"><i class="tu"></i>4</span></div>
<div class="v" style="left:596px;top:164px">5<span class="s su"><i class="tu"></i>7</span></div>
<div class="v" style="left:675px;top:164px">12<span class="s su"><i class="tu"></i>25</span></div>
<div class="v" style="left:754px;top:164px">37<svg class="ar" width="5" height="9" viewBox="0 0 5 9"><path d="M2.5 2V9" stroke="#62c483" stroke-width="1"/><path d="M0.5 3.3 L2.5 0.6 L4.5 3.3Z" fill="#62c483"/></svg></div>
<div class="dd" style="left:832px;top:165px">--</div>
<div class="dd" style="left:911px;top:165px">--</div>
<div class="v" style="left:359px;top:205px">1<span class="s su"><i class="tu"></i>6</span></div>
<div class="v" style="left:438px;top:205px">7<span class="s sd"><i class="td"></i>5</span></div>
<div class="v" style="left:517px;top:205px">2<span class="s su"><i class="tu"></i>4</span></div>
<div class="v" style="left:596px;top:205px">6<span class="s su"><i class="tu"></i>4</span></div>
<div class="v" style="left:675px;top:205px">10<span class="s su"><i class="tu"></i>3</span></div>
<div class="v" style="left:754px;top:205px">13<svg class="ar" width="5" height="9" viewBox="0 0 5 9"><path d="M2.5 2V9" stroke="#62c483" stroke-width="1"/><path d="M0.5 3.3 L2.5 0.6 L4.5 3.3Z" fill="#62c483"/></svg></div>
<div class="dd" style="left:832px;top:206px">--</div>
<div class="dd" style="left:911px;top:206px">--</div>
<div class="v" style="left:359px;top:246px">1<span class="s su"><i class="tu"></i>1</span></div>
<div class="v" style="left:438px;top:246px">2<span class="s su"><i class="tu"></i>1</span></div>
<div class="v" style="left:517px;top:246px">3<span class="s su"><i class="tu"></i>9</span></div>
<div class="v" style="left:596px;top:246px">12<span class="s su"><i class="tu"></i>2</span></div>
<div class="v" style="left:675px;top:246px">14<span class="s su"><i class="tu"></i>3</span></div>
<div class="v" style="left:754px;top:246px">17<span class="s su"><i class="tu"></i>10</span></div>
<div class="v" style="left:833px;top:246px">27<span class="s sd"><i class="td"></i>4</span></div>
<div class="v" style="left:912px;top:246px">23</div>
<div class="v" style="left:359px;top:287px">1</div>
<div class="v" style="left:438px;top:287px">1</div>
<div class="v" style="left:517px;top:287px">1</div>
<div class="v" style="left:596px;top:287px">1<span class="s su"><i class="tu"></i>5</span></div>
<div class="v" style="left:675px;top:287px">6<span class="s su"><i class="tu"></i>3</span></div>
<div class="v" style="left:754px;top:287px">9<svg class="ar" width="5" height="9" viewBox="0 0 5 9"><path d="M2.5 2V9" stroke="#62c483" stroke-width="1"/><path d="M0.5 3.3 L2.5 0.6 L4.5 3.3Z" fill="#62c483"/></svg></div>
<div class="dd" style="left:832px;top:288px">--</div>
<div class="dd" style="left:911px;top:288px">--</div>
<div class="v" style="left:359px;top:328px">1</div>
<div class="v" style="left:438px;top:328px">1</div>
<div class="v" style="left:517px;top:328px">1<span class="s su"><i class="tu"></i>1</span></div>
<div class="v" style="left:596px;top:328px">2<svg class="ar" width="5" height="9" viewBox="0 0 5 9"><path d="M2.5 2V9" stroke="#62c483" stroke-width="1"/><path d="M0.5 3.3 L2.5 0.6 L4.5 3.3Z" fill="#62c483"/></svg></div>
<div class="dd" style="left:674px;top:329px">--</div>
<div class="dd" style="left:753px;top:329px">--</div>
<div class="dd" style="left:832px;top:329px">--</div>
<div class="dd" style="left:911px;top:329px">--</div>
<div class="v" style="left:359px;top:369px">1<svg class="ar" width="5" height="9" viewBox="0 0 5 9"><path d="M2.5 2V9" stroke="#62c483" stroke-width="1"/><path d="M0.5 3.3 L2.5 0.6 L4.5 3.3Z" fill="#62c483"/></svg></div>
<div class="v" style="left:437px;top:370px">--<span class="s sx" style="margin-left:1.5px;top:-8px">x</span></div>
<div class="v" style="left:517px;top:369px">10<span class="s su"><i class="tu"></i>1</span></div>
<div class="v" style="left:596px;top:369px">11<span class="s su"><i class="tu"></i>16</span></div>
<div class="v" style="left:675px;top:369px">27<span class="s sd"><i class="td"></i>5</span></div>
<div class="v" style="left:754px;top:369px">22<svg class="ar" width="5" height="9" viewBox="0 0 5 9"><path d="M2.5 2V9" stroke="#62c483" stroke-width="1"/><path d="M0.5 3.3 L2.5 0.6 L4.5 3.3Z" fill="#62c483"/></svg></div>
<div class="v" style="left:832px;top:370px">--<span class="s sx" style="margin-left:1.5px;top:-8px">x</span></div>
<div class="v" style="left:912px;top:369px">23</div>
<div class="v" style="left:359px;top:410px">1</div>
<div class="v" style="left:438px;top:410px">1</div>
<div class="v" style="left:517px;top:410px">1<span class="s su"><i class="tu"></i>30</span></div>
<div class="v" style="left:596px;top:410px">31<span class="s su"><i class="tu"></i>42</span></div>
<div class="v" style="left:675px;top:410px">73<span class="s sd"><i class="td"></i>2</span></div>
<div class="v" style="left:754px;top:410px">71<svg class="ar" width="5" height="9" viewBox="0 0 5 9"><path d="M2.5 2V9" stroke="#62c483" stroke-width="1"/><path d="M0.5 3.3 L2.5 0.6 L4.5 3.3Z" fill="#62c483"/></svg></div>
<div class="dd" style="left:832px;top:411px">--</div>
<div class="dd" style="left:911px;top:411px">--</div>
<div class="v" style="left:359px;top:451px">1<span class="s su"><i class="tu"></i>5</span></div>
<div class="v" style="left:438px;top:451px">6<span class="s su"><i class="tu"></i>84</span></div>
<div class="v" style="left:517px;top:451px">90<span class="s sd"><i class="td"></i>26</span></div>
<div class="v" style="left:596px;top:451px">64<span class="s su"><i class="tu"></i>17</span></div>
<div class="v" style="left:675px;top:451px">81<svg class="ar" width="5" height="9" viewBox="0 0 5 9"><path d="M2.5 2V9" stroke="#62c483" stroke-width="1"/><path d="M0.5 3.3 L2.5 0.6 L4.5 3.3Z" fill="#62c483"/></svg></div>
<div class="dd" style="left:753px;top:452px">--</div>
<div class="dd" style="left:832px;top:452px">--</div>
<div class="dd" style="left:911px;top:452px">--</div>
<div class="v" style="left:359px;top:492px">1<span class="s su"><i class="tu"></i>2</span></div>
<div class="v" style="left:438px;top:492px">3</div>
<div class="v" style="left:517px;top:492px">3<span class="s su"><i class="tu"></i>4</span></div>
<div class="v" style="left:596px;top:492px">7<span class="s su"><i class="tu"></i>13</span></div>
<div class="v" style="left:675px;top:492px">20<span class="s sd"><i class="td"></i>4</span></div>
<div class="v" style="left:754px;top:492px">16<span class="s su"><i class="tu"></i>2</span></div>
<div class="v" style="left:833px;top:492px">18<svg class="ar" width="5" height="9" viewBox="0 0 5 9"><path d="M2.5 2V9" stroke="#62c483" stroke-width="1"/><path d="M0.5 3.3 L2.5 0.6 L4.5 3.3Z" fill="#62c483"/></svg></div>
<div class="dd" style="left:911px;top:493px">--</div>
<div class="v" style="left:359px;top:533px">1</div>
<div class="v" style="left:438px;top:533px">1<span class="s su"><i class="tu"></i>2</span></div>
<div class="v" style="left:517px;top:533px">3<svg class="ar" width="5" height="9" viewBox="0 0 5 9"><path d="M2.5 2V9" stroke="#62c483" stroke-width="1"/><path d="M0.5 3.3 L2.5 0.6 L4.5 3.3Z" fill="#62c483"/></svg></div>
<div class="dd" style="left:595px;top:534px">--</div>
<div class="dd" style="left:674px;top:534px">--</div>
<div class="dd" style="left:753px;top:534px">--</div>
<div class="dd" style="left:832px;top:534px">--</div>
<div class="dd" style="left:911px;top:534px">--</div>
<div class="v" style="left:359px;top:574px">1<span class="s su"><i class="tu"></i>1</span></div>
<div class="v" style="left:438px;top:574px">2<span class="s su"><i class="tu"></i>1</span></div>
<div class="v" style="left:517px;top:574px">3<span class="s su"><i class="tu"></i>4</span></div>
<div class="v" style="left:596px;top:574px">7<span class="s sd"><i class="td"></i>1</span></div>
<div class="v" style="left:675px;top:574px">6<span class="s su"><i class="tu"></i>13</span></div>
<div class="v" style="left:754px;top:574px">19<span class="s sd"><i class="td"></i>8</span></div>
<div class="v" style="left:833px;top:574px">11<svg class="ar" width="5" height="9" viewBox="0 0 5 9"><path d="M2.5 2V9" stroke="#62c483" stroke-width="1"/><path d="M0.5 3.3 L2.5 0.6 L4.5 3.3Z" fill="#62c483"/></svg></div>
<div class="dd" style="left:911px;top:575px">--</div>
<div class="v" style="left:359px;top:615px">1<span class="s su"><i class="tu"></i>2</span></div>
<div class="v" style="left:438px;top:615px">3<span class="s su"><i class="tu"></i>87</span></div>
<div class="v" style="left:517px;top:615px">90<svg class="ar" width="5" height="9" viewBox="0 0 5 9"><path d="M2.5 2V9" stroke="#62c483" stroke-width="1"/><path d="M0.5 3.3 L2.5 0.6 L4.5 3.3Z" fill="#62c483"/></svg></div>
<div class="dd" style="left:595px;top:616px">--</div>
<div class="dd" style="left:674px;top:616px">--</div>
<div class="dd" style="left:753px;top:616px">--</div>
<div class="dd" style="left:832px;top:616px">--</div>
<div class="dd" style="left:911px;top:616px">--</div>
<div class="v" style="left:359px;top:656px">1<span class="s su"><i class="tu"></i>2</span></div>
<div class="v" style="left:438px;top:656px">3<span class="s sd"><i class="td"></i>1</span></div>
<div class="v" style="left:517px;top:656px">2<span class="s su"><i class="tu"></i>5</span></div>
<div class="v" style="left:596px;top:656px">7<span class="s su"><i class="tu"></i>88</span></div>
<div class="v" style="left:675px;top:656px">95<svg class="ar" width="5" height="9" viewBox="0 0 5 9"><path d="M2.5 2V9" stroke="#62c483" stroke-width="1"/><path d="M0.5 3.3 L2.5 0.6 L4.5 3.3Z" fill="#62c483"/></svg></div>
<div class="dd" style="left:753px;top:657px">--</div>
<div class="dd" style="left:832px;top:657px">--</div>
<div class="dd" style="left:911px;top:657px">--</div>
<div class="v" style="left:359px;top:697px">1</div>
<div class="v" style="left:438px;top:697px">1</div>
<div class="v" style="left:517px;top:697px">1<span class="s su"><i class="tu"></i>4</span></div>
<div class="v" style="left:596px;top:697px">5<span class="s su"><i class="tu"></i>21</span></div>
<div class="v" style="left:675px;top:697px">26<span class="s sd"><i class="td"></i>7</span></div>
<div class="v" style="left:754px;top:697px">19<svg class="ar" width="5" height="9" viewBox="0 0 5 9"><path d="M2.5 2V9" stroke="#62c483" stroke-width="1"/><path d="M0.5 3.3 L2.5 0.6 L4.5 3.3Z" fill="#62c483"/></svg></div>
<div class="dd" style="left:832px;top:698px">--</div>
<div class="dd" style="left:911px;top:698px">--</div>
<div class="v" style="left:359px;top:738px">1<span class="s su"><i class="tu"></i>3</span></div>
<div class="v" style="left:438px;top:738px">4<span class="s sd"><i class="td"></i>2</span></div>
<div class="v" style="left:517px;top:738px">2<span class="s su"><i class="tu"></i>9</span></div>
<div class="v" style="left:596px;top:738px">11<span class="s sd"><i class="td"></i>1</span></div>
<div class="v" style="left:675px;top:738px">10<span class="s su"><i class="tu"></i>8</span></div>
<div class="v" style="left:754px;top:738px">18<span class="s sd"><i class="td"></i>3</span></div>
<div class="v" style="left:833px;top:738px">15<span class="s su"><i class="tu"></i>1</span></div>
<div class="v" style="left:912px;top:738px">16</div>
<div class="v" style="left:359px;top:779px">1</div>
<div class="v" style="left:438px;top:779px">1<span class="s su"><i class="tu"></i>1</span></div>
<div class="v" style="left:517px;top:779px">2<span class="s su"><i class="tu"></i>4</span></div>
<div class="v" style="left:596px;top:779px">6</div>
<div class="v" style="left:675px;top:779px">6<span class="s su"><i class="tu"></i>3</span></div>
<div class="v" style="left:754px;top:779px">9<span class="s su"><i class="tu"></i>6</span></div>
<div class="v" style="left:833px;top:779px">15<span class="s sd"><i class="td"></i>4</span></div>
<div class="v" style="left:912px;top:779px">11</div>
<div class="v" style="left:359px;top:820px">1</div>
<div class="v" style="left:438px;top:820px">1</div>
<div class="v" style="left:517px;top:820px">1</div>
<div class="v" style="left:596px;top:820px">1<span class="s su"><i class="tu"></i>5</span></div>
<div class="v" style="left:675px;top:820px">6<span class="s su"><i class="tu"></i>92</span></div>
<div class="v" style="left:754px;top:820px">98<span class="s sd"><i class="td"></i>59</span></div>
<div class="v" style="left:833px;top:820px">39<svg class="ar" width="5" height="9" viewBox="0 0 5 9"><path d="M2.5 2V9" stroke="#62c483" stroke-width="1"/><path d="M0.5 3.3 L2.5 0.6 L4.5 3.3Z" fill="#62c483"/></svg></div>
<div class="dd" style="left:911px;top:821px">--</div>
<div class="v" style="left:359px;top:861px">1</div>
<div class="v" style="left:438px;top:861px">1<span class="s su"><i class="tu"></i>2</span></div>
<div class="v" style="left:517px;top:861px">3<span class="s su"><i class="tu"></i>1</span></div>
<div class="v" style="left:596px;top:861px">4<span class="s su"><i class="tu"></i>10</span></div>
<div class="v" style="left:675px;top:861px">14<span class="s su"><i class="tu"></i>6</span></div>
<div class="v" style="left:754px;top:861px">20<span class="s sd"><i class="td"></i>1</span></div>
<div class="v" style="left:833px;top:861px">19<svg class="ar" width="5" height="9" viewBox="0 0 5 9"><path d="M2.5 2V9" stroke="#62c483" stroke-width="1"/><path d="M0.5 3.3 L2.5 0.6 L4.5 3.3Z" fill="#62c483"/></svg></div>
<div class="dd" style="left:911px;top:862px">--</div>
<svg class="a" style="left:0;top:0" width="240" height="33" viewBox="0 0 240 33">
<g fill="#d6d6d6">
<rect x="20.3" y="12.5" width="2.4" height="8.5"/><path d="M17.8 20.5 H25 L21.4 24.2 Z"/>
<rect x="27.1" y="16.5" width="2.5" height="8"/><path d="M24.6 16.8 H32 L28.3 13.2 Z"/>
<circle cx="62.6" cy="18.8" r="6.8"/>
<circle cx="56" cy="18.5" r="8.3" fill="#f6f6f6"/>
<circle cx="56" cy="18.5" r="6.8" fill="#d8dbde"/>
<rect x="114" y="11.7" width="2" height="16.6" fill="#d2d2d2"/>
</g>
<g transform="translate(93.6 18.6) rotate(45) scale(1.15)" fill="none" stroke="#d6d6d6" stroke-width="1.9">
<path d="M-3.9 -2.45 L-4.75 -2.45 A2.75 2.75 0 0 0 -4.75 3.05 L-0.45 3.05 A2.75 2.75 0 0 0 2.3 0.3"/>
<path d="M-1.85 0.3 A2.75 2.75 0 0 1 0.9 -2.45 L5.2 -2.45 A2.75 2.75 0 0 1 5.2 3.05 L4.9 3.05"/>
</g>
<rect x="137" y="12.1" width="13.6" height="13.6" rx="1.6" fill="none" stroke="#d8d8d8" stroke-width="2"/>
<rect x="139" y="14.2" width="9.6" height="1.8" fill="#d8d8d8"/>
<rect x="139" y="17.6" width="9.6" height="6.2" fill="#dadada"/>
<circle cx="173" cy="18.8" r="6.9" fill="none" stroke="#d8d8d8" stroke-width="1.9"/>
<path d="M173 14.1 A4.7 4.7 0 0 1 173 23.5 Z" fill="#dadada"/>
<path d="M193.8 11.9 H203.2 L205.9 15 H209.9 V26.9 H193.8 Z" fill="#9fa4a7"/>
<text x="195.6" y="24.2" font-family="Liberation Sans, sans-serif" font-size="10.5" fill="#ffffff">Aa</text>
</svg>
<svg class="a" style="left:12px;top:41px" width="26" height="24" viewBox="12 41 26 24">
<g transform="translate(24.2 52.3) rotate(45)" fill="none" stroke="#2f3b48" stroke-width="1.9">
<path d="M-3.9 -2.45 L-4.75 -2.45 A2.75 2.75 0 0 0 -4.75 3.05 L-0.45 3.05 A2.75 2.75 0 0 0 2.3 0.3"/>
<path d="M-1.85 0.3 A2.75 2.75 0 0 1 0.9 -2.45 L5.2 -2.45 A2.75 2.75 0 0 1 5.2 3.05 L4.9 3.05"/>
</g></svg>
<svg class="a" style="left:164px;top:40px" width="22" height="18" viewBox="164 40 22 18">
<circle cx="176.5" cy="48.5" r="3.9" fill="none" stroke="#a2a2a2" stroke-width="1.5"/>
<path d="M173.6 51.4 L169.8 55.2" stroke="#a2a2a2" stroke-width="1.8" stroke-linecap="round"/>
</svg>
<svg class="a" style="left:300px;top:54px" width="22" height="19" viewBox="300 54 22 19">
<circle cx="311" cy="64.7" r="7" fill="#e4e4e4"/>
<path d="M306 60.5 Q309 58.2 313 58.6 L311.8 61.5 L309.5 62.2 L310 65 L308 66.5 L306.2 64.5 Z M312.6 63.2 L316.4 62.5 L317.3 66 L315 69.5 L312.8 68.8 L313.5 66 Z" fill="#cfcfcf"/>
</svg>
<div class="a" style="left:55px;top:44px;font-size:16px;line-height:16px;font-weight:bold;color:#2f3e4e;white-space:nowrap">Запросы <span style="font-size:14px;letter-spacing:.3px;margin-left:.5px">(185)</span></div>
<div class="a" style="left:276px;top:37px;width:70px;text-align:center;font-size:12px;line-height:12px;color:#3b4150">Частота</div>
<div class="dh" style="left:348px;top:37px;color:#4cae5e;text-decoration:underline">24.11.2023</div>
<svg class="a" style="left:369.8px;top:58px" width="14" height="14" viewBox="0 0 14 14"><circle cx="7" cy="7" r="7" fill="#a2a4a6"/><circle cx="4.4" cy="4.9" r="1.45" fill="none" stroke="#fff" stroke-width="1.1"/><circle cx="9.6" cy="9.1" r="1.45" fill="none" stroke="#fff" stroke-width="1.1"/><path d="M10.2 3.6 L3.8 10.4" stroke="#fff" stroke-width="1.1"/></svg>
<div class="pn" style="left:386.3px;top:53px">87</div>
<div class="dh" style="left:427px;top:37px;">26.06.2023</div>
<svg class="a" style="left:448.8px;top:58px" width="14" height="14" viewBox="0 0 14 14"><circle cx="7" cy="7" r="7" fill="#a2a4a6"/><circle cx="4.4" cy="4.9" r="1.45" fill="none" stroke="#fff" stroke-width="1.1"/><circle cx="9.6" cy="9.1" r="1.45" fill="none" stroke="#fff" stroke-width="1.1"/><path d="M10.2 3.6 L3.8 10.4" stroke="#fff" stroke-width="1.1"/></svg>
<div class="pn" style="left:465.3px;top:53px">85</div>
<div class="dh" style="left:506px;top:37px;">28.11.2022</div>
<svg class="a" style="left:527.8px;top:58px" width="14" height="14" viewBox="0 0 14 14"><circle cx="7" cy="7" r="7" fill="#a2a4a6"/><circle cx="4.4" cy="4.9" r="1.45" fill="none" stroke="#fff" stroke-width="1.1"/><circle cx="9.6" cy="9.1" r="1.45" fill="none" stroke="#fff" stroke-width="1.1"/><path d="M10.2 3.6 L3.8 10.4" stroke="#fff" stroke-width="1.1"/></svg>
<div class="pn" style="left:544.3px;top:53px">77</div>
<div class="dh" style="left:585px;top:37px;">26.09.2022</div>
<svg class="a" style="left:606.8px;top:58px" width="14" height="14" viewBox="0 0 14 14"><circle cx="7" cy="7" r="7" fill="#a2a4a6"/><circle cx="4.4" cy="4.9" r="1.45" fill="none" stroke="#fff" stroke-width="1.1"/><circle cx="9.6" cy="9.1" r="1.45" fill="none" stroke="#fff" stroke-width="1.1"/><path d="M10.2 3.6 L3.8 10.4" stroke="#fff" stroke-width="1.1"/></svg>
<div class="pn" style="left:623.3px;top:53px">58</div>
<div class="dh" style="left:664px;top:37px;">25.07.2022</div>
<svg class="a" style="left:685.8px;top:58px" width="14" height="14" viewBox="0 0 14 14"><circle cx="7" cy="7" r="7" fill="#a2a4a6"/><circle cx="4.4" cy="4.9" r="1.45" fill="none" stroke="#fff" stroke-width="1.1"/><circle cx="9.6" cy="9.1" r="1.45" fill="none" stroke="#fff" stroke-width="1.1"/><path d="M10.2 3.6 L3.8 10.4" stroke="#fff" stroke-width="1.1"/></svg>
<div class="pn" style="left:702.3px;top:53px">33</div>
<div class="dh" style="left:743px;top:37px;">27.06.2022</div>
<svg class="a" style="left:764.8px;top:58px" width="14" height="14" viewBox="0 0 14 14"><circle cx="7" cy="7" r="7" fill="#a2a4a6"/><circle cx="4.4" cy="4.9" r="1.45" fill="none" stroke="#fff" stroke-width="1.1"/><circle cx="9.6" cy="9.1" r="1.45" fill="none" stroke="#fff" stroke-width="1.1"/><path d="M10.2 3.6 L3.8 10.4" stroke="#fff" stroke-width="1.1"/></svg>
<div class="pn" style="left:781.3px;top:53px">12</div>
<div class="dh" style="left:822px;top:37px;">30.05.2022</div>
<svg class="a" style="left:843.8px;top:58px" width="14" height="14" viewBox="0 0 14 14"><circle cx="7" cy="7" r="7" fill="#a2a4a6"/><circle cx="4.4" cy="4.9" r="1.45" fill="none" stroke="#fff" stroke-width="1.1"/><circle cx="9.6" cy="9.1" r="1.45" fill="none" stroke="#fff" stroke-width="1.1"/><path d="M10.2 3.6 L3.8 10.4" stroke="#fff" stroke-width="1.1"/></svg>
<div class="pn" style="left:860.3px;top:53px">10</div>
<div class="dh" style="left:901px;top:37px;">21.03.2022</div>
<svg class="a" style="left:926.1px;top:58px" width="14" height="14" viewBox="0 0 14 14"><circle cx="7" cy="7" r="7" fill="#a2a4a6"/><circle cx="4.4" cy="4.9" r="1.45" fill="none" stroke="#fff" stroke-width="1.1"/><circle cx="9.6" cy="9.1" r="1.45" fill="none" stroke="#fff" stroke-width="1.1"/><path d="M10.2 3.6 L3.8 10.4" stroke="#fff" stroke-width="1.1"/></svg>
<div class="pn" style="left:942.6px;top:53px">4</div>
</body></html>
